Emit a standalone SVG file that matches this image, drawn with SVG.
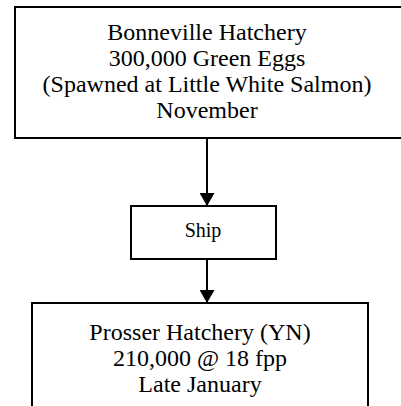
<svg xmlns="http://www.w3.org/2000/svg" width="401" height="406" viewBox="0 0 401 406">
<style>
.box{fill:#fff;stroke:#000;stroke-width:2}
.t{font-family:"Liberation Serif","Times New Roman",serif;font-size:24px;fill:#000;text-anchor:middle}
.s{font-family:"Liberation Serif","Times New Roman",serif;font-size:20px;fill:#000;text-anchor:middle}
.c{stroke:#000;stroke-width:2;fill:none;marker-end:url(#ah)}
</style>
<defs>
<marker id="ah" markerWidth="13" markerHeight="15" refX="13" refY="0" orient="auto" markerUnits="userSpaceOnUse" viewBox="0 -7.5 13 15">
<path d="M0,-7.5 L13,0 L0,7.5 Z" fill="#000"/>
</marker>
</defs>
<g id="bonneville">
<rect class="box" x="15" y="7" width="400" height="131"/>
<text class="t" x="207" y="40">Bonneville Hatchery</text>
<text class="t" x="207" y="66">300,000 Green Eggs</text>
<text class="t" x="207" y="92">(Spawned at Little White Salmon)</text>
<text class="t" x="207" y="118">November</text>
</g>
<g id="ship">
<rect class="box" x="131" y="206" width="145" height="53"/>
<text class="s" x="203" y="237">Ship</text>
</g>
<g id="prosser">
<rect class="box" x="32" y="303" width="336" height="120"/>
<text class="t" x="200" y="340">Prosser Hatchery (YN)</text>
<text class="t" x="200" y="366">210,000 @ 18 fpp</text>
<text class="t" x="200" y="392">Late January</text>
</g>
<g id="connectors">
<line class="c" x1="207" y1="138" x2="207" y2="206"/>
<line class="c" x1="207" y1="259" x2="207" y2="303"/>
</g>
</svg>
